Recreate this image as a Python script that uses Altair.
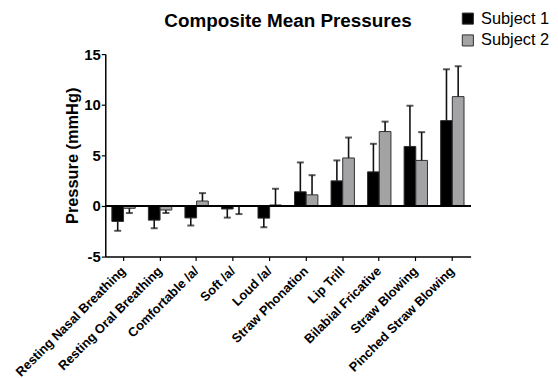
import altair as alt
import pandas as pd

categories = ["Resting Nasal Breathing", "Resting Oral Breathing", "Comfortable /a/",
              "Soft /a/", "Loud /a/", "Straw Phonation", "Lip Trill",
              "Bilabial Fricative", "Straw Blowing", "Pinched Straw Blowing"]
subjects = ["Subject 1", "Subject 2"]
s1_mean = [-1.53, -1.4, -1.18, -0.3, -1.2, 1.4, 2.48, 3.37, 5.88, 8.43]
s1_sd = [0.92, 0.8, 0.75, 0.85, 0.9, 2.9, 2.02, 2.77, 4.02, 5.07]
s2_mean = [-0.23, -0.4, 0.49, -0.05, 0.1, 1.1, 4.74, 7.35, 4.5, 10.8]
s2_sd = [0.47, 0.3, 0.78, 0.75, 1.6, 1.94, 2.02, 0.98, 2.79, 3.0]
y_ticks = [-5, 0, 5, 10, 15]

rows = []
for subj, means, sds in [(subjects[0], s1_mean, s1_sd), (subjects[1], s2_mean, s2_sd)]:
    for c, m, s in zip(categories, means, sds):
        end = m + s if m >= 0 else m - s
        rows.append({"cat": c, "subject": subj, "mean": m, "end": end})
df = pd.DataFrame(rows)

FONT = "Liberation Sans"

x = alt.X("cat:N", sort=categories, title=None,
          scale=alt.Scale(paddingInner=0.36, paddingOuter=0.18),
          axis=alt.Axis(labelAngle=315, labelAlign="right", labelBaseline="middle",
                        labelFontSize=13, labelFontWeight="bold", labelFont=FONT,
                        labelColor="black", tickColor="black", domainColor="black",
                        domainWidth=1.5, tickWidth=1.2, tickSize=4, labelPadding=8,
                        labelLimit=300))
xo = alt.XOffset("subject:N", sort=subjects, scale=alt.Scale(paddingInner=0, paddingOuter=0))
yscale = alt.Scale(domain=[-5, 15], nice=False, zero=False)

bars = alt.Chart(df).mark_bar(stroke="#303030", strokeWidth=1).encode(
    x=x, xOffset=xo,
    y=alt.Y("mean:Q", scale=yscale, title="Pressure (mmHg)",
            axis=alt.Axis(values=y_ticks, grid=False, labelFontSize=15,
                          labelExpr="datum.value < 0 ? '-' + abs(datum.value) : '' + datum.value",
                          labelFontWeight="bold", labelFont=FONT, labelColor="black",
                          labelPadding=1,
                          titleFont=FONT, titleFontSize=16.5, titleFontWeight="bold",
                          titleColor="black", domainColor="black", domainWidth=1.5,
                          tickColor="black", tickSize=4, tickWidth=1.2, titlePadding=3)),
    y2=alt.Y2(datum=0),
    color=alt.Color("subject:N", sort=subjects,
                    scale=alt.Scale(domain=subjects, range=["#000000", "#a3a3a6"]),
                    legend=alt.Legend(title=None, orient="none", legendX=357, legendY=-44,
                                      symbolType="square", symbolSize=125,
                                      symbolStrokeColor="#303030", symbolStrokeWidth=1,
                                      labelFont=FONT, labelFontSize=16.5, labelColor="black",
                                      rowPadding=5, labelOffset=5)),
)

errs = alt.Chart(df).mark_rule(color="#111111", strokeWidth=1.6).encode(
    x=x, xOffset=xo, y=alt.Y("mean:Q", scale=yscale), y2="end:Q")
caps = alt.Chart(df).mark_tick(color="#111111", thickness=2, size=7).encode(
    x=x, xOffset=xo, y=alt.Y("end:Q", scale=yscale))
zero = alt.Chart(df).mark_rule(color="black", strokeWidth=1.5).encode(y=alt.datum(0))

chart = alt.layer(bars, errs, caps, zero).properties(
    width=368, height=204,
    title=alt.TitleParams("Composite Mean Pressures", font=FONT, fontSize=19,
                          fontWeight="bold", color="black", anchor="middle",
                          frame="group", baseline="alphabetic", offset=0, dy=36),
    autosize=alt.AutoSizeParams(type="none"),
    padding={"left": 98, "top": 45, "right": 80, "bottom": 140},
).configure_view(stroke=None)

chart.save("out.html", embed_options={"renderer": "svg", "actions": False})
